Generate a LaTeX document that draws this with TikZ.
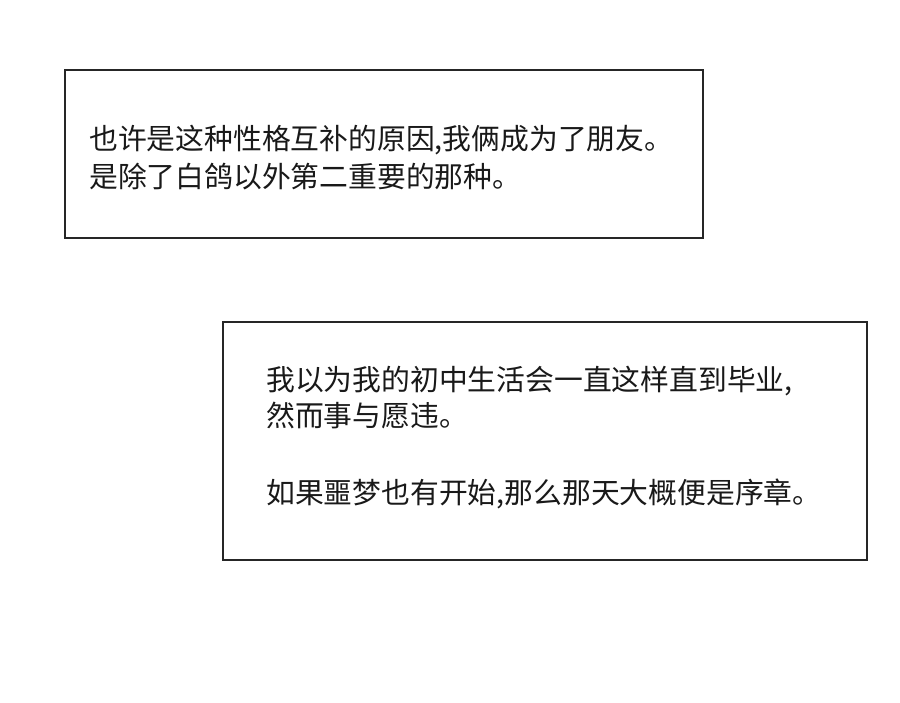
\documentclass[tikz,border=0pt]{standalone}
\usepackage{fontspec}
\newfontfamily\cjk{Noto Sans CJK SC}
\begin{document}
\begin{tikzpicture}[x=1pt,y=-1pt,
  box/.style={draw=black!85,line width=1.8pt},
  txt/.style={anchor=west,inner sep=0pt,font=\cjk\fontsize{28.8}{32}\selectfont,text=black!90}]
\useasboundingbox[fill=white] (0,0) rectangle (900,703);
\draw[box] (65,70) rectangle (703,238);
\draw[box] (223,322) rectangle (867,560);
\node[txt] (a1) at (89,140) {也许是这种性格互补的原因,我俩成为了朋友。};
\node[txt] (a2) at (89,177) {是除了白鸽以外第二重要的那种。};
\node[txt] (b1) at (266,381) {我以为我的初中生活会一直这样直到毕业,};
\node[txt] (b2) at (266,416) {然而事与愿违。};
\node[txt] (b3) at (266,494) {如果噩梦也有开始,那么那天大概便是序章。};
\end{tikzpicture}
\end{document}
